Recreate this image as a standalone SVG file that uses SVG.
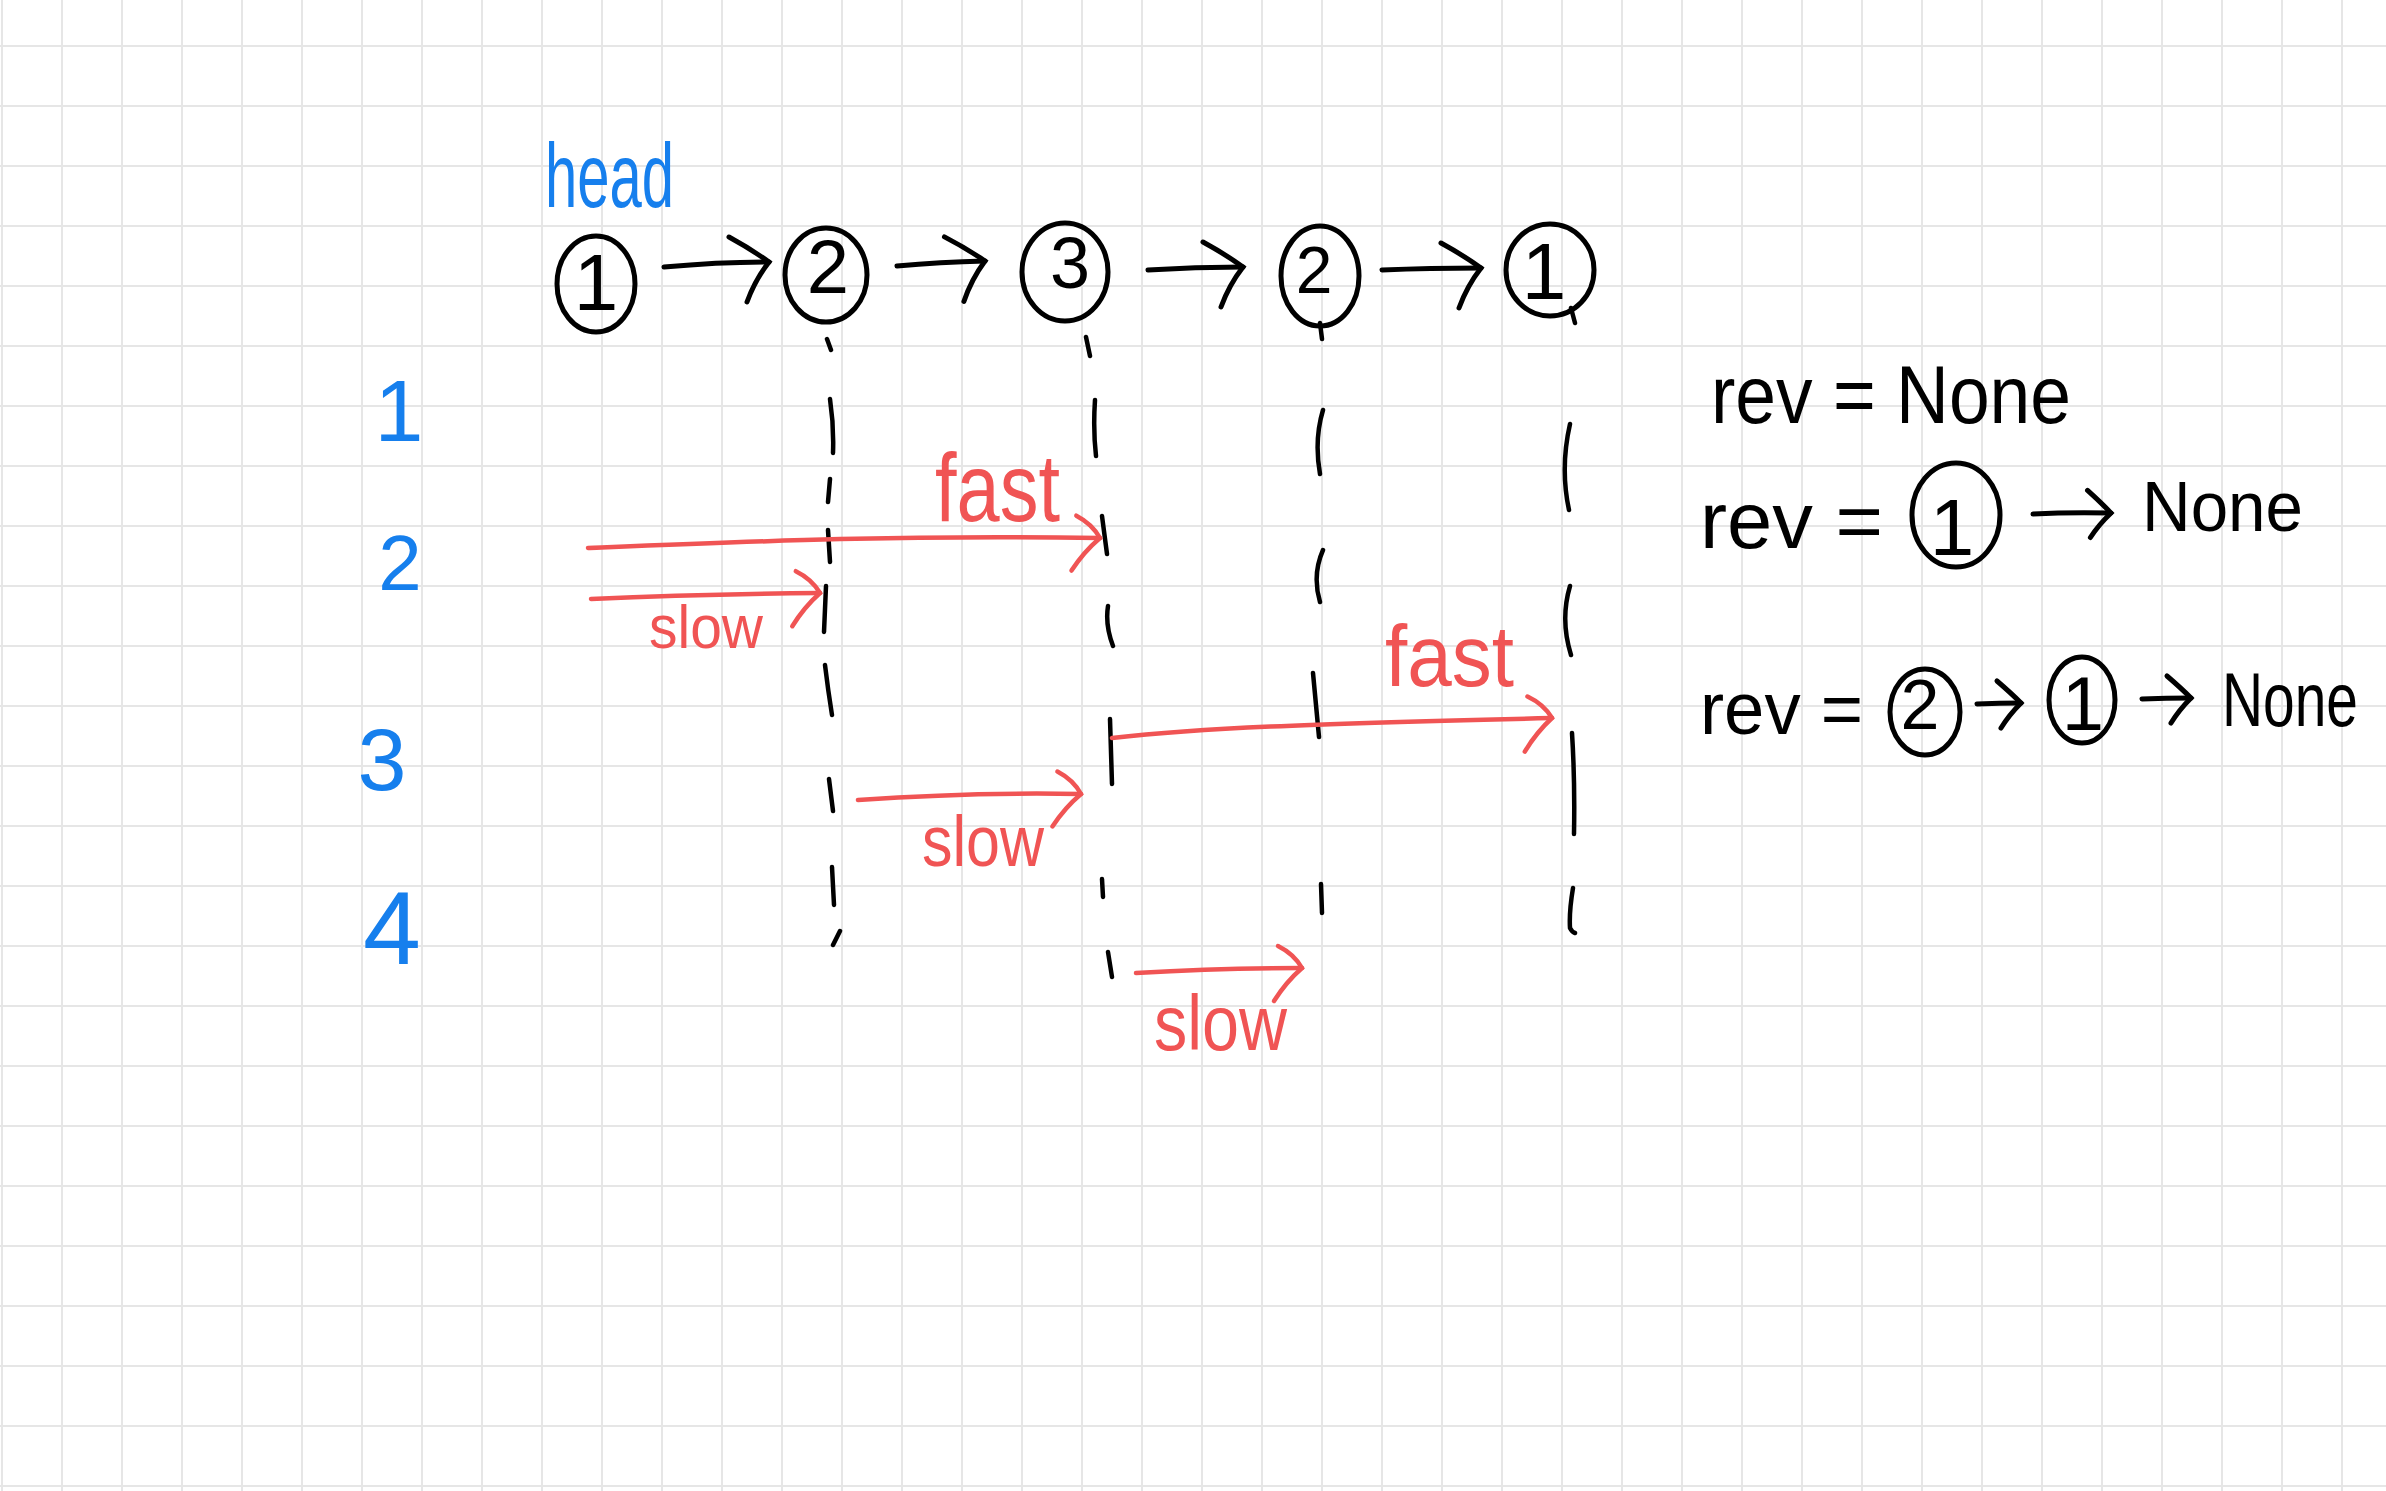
<svg xmlns="http://www.w3.org/2000/svg" width="2386" height="1491" viewBox="0 0 2386 1491">
<defs>
<pattern id="grid" x="1" y="45" width="60" height="60" patternUnits="userSpaceOnUse">
<rect x="0" y="0" width="60" height="2" fill="#e6e6e6"/>
<rect x="0" y="0" width="2" height="60" fill="#e6e6e6"/>
</pattern>
<marker id="ah-black" markerUnits="userSpaceOnUse" markerWidth="60" markerHeight="100" viewBox="-50 -50 60 100" refX="0" refY="0" orient="auto" style="overflow:visible">
<path d="M-40,-25 Q-18,-13 0,0 Q-14,18 -22,40" fill="none" stroke="#000" stroke-width="5" stroke-linecap="round"/>
</marker>
<marker id="ah-small" markerUnits="userSpaceOnUse" markerWidth="40" markerHeight="60" viewBox="-30 -30 40 60" refX="0" refY="0" orient="auto" style="overflow:visible">
<path d="M-24,-22 Q-10,-10 0,0 Q-12,12 -20,25" fill="none" stroke="#000" stroke-width="5" stroke-linecap="round"/>
</marker>
<marker id="ah-red" markerUnits="userSpaceOnUse" markerWidth="60" markerHeight="80" viewBox="-40 -40 60 80" refX="0" refY="0" orient="auto" style="overflow:visible">
<path d="M-24,-22 Q-8,-14 0,0 Q-16,14 -28,33" fill="none" stroke="#f05454" stroke-width="4.5" stroke-linecap="round"/>
</marker>
</defs>
<style>
.ink{fill:none;stroke:#000;stroke-width:5;stroke-linecap:round;stroke-linejoin:round}
.dash{fill:none;stroke:#000;stroke-width:4.5;stroke-linecap:round}
.red{fill:none;stroke:#f05454;stroke-width:4.5;stroke-linecap:round}
.node{fill:none;stroke:#000;stroke-width:5}
.t{font-family:"Liberation Sans",Arial,sans-serif}
.digit{fill:#000;text-anchor:middle}
.blue{fill:#167fed}
.redt{fill:#f05454}
.blk{fill:#000}
</style>
<rect x="0" y="0" width="2386" height="1491" fill="#ffffff"/>
<rect x="0" y="0" width="2386" height="1491" fill="url(#grid)"/>

<g id="head-label">
<text class="t blue" x="545" y="207" font-size="90" textLength="129" lengthAdjust="spacingAndGlyphs">head</text>
</g>

<g id="step-labels">
<text class="t blue" x="399" y="441" font-size="88" text-anchor="middle">1</text>
<text class="t blue" x="400" y="590" font-size="78" text-anchor="middle">2</text>
<text class="t blue" x="382" y="790" font-size="88" text-anchor="middle">3</text>
<text class="t blue" x="392" y="964" font-size="104" text-anchor="middle">4</text>
</g>

<g id="node-1">
<ellipse class="node" cx="596" cy="284" rx="39" ry="48"/>
<text class="t digit" x="596" y="310" font-size="80">1</text>
</g>
<g id="node-2">
<ellipse class="node" cx="826" cy="275" rx="41" ry="47"/>
<text class="t digit" x="828" y="293" font-size="76">2</text>
</g>
<g id="node-3">
<ellipse class="node" cx="1065" cy="272" rx="43" ry="49"/>
<text class="t digit" x="1070" y="288" font-size="72">3</text>
</g>
<g id="node-4">
<ellipse class="node" cx="1320" cy="276" rx="39" ry="50"/>
<text class="t digit" x="1314" y="293" font-size="66">2</text>
</g>
<g id="node-5">
<ellipse class="node" cx="1550" cy="270" rx="44" ry="46"/>
<text class="t digit" x="1544" y="299" font-size="80">1</text>
</g>

<g id="connectors">
<path class="ink" d="M664 267 Q720 262 769 262" marker-end="url(#ah-black)"/>
<path class="ink" d="M897 266 Q940 262 985 261" marker-end="url(#ah-black)"/>
<path class="ink" d="M1148 270 Q1195 267 1243 267" marker-end="url(#ah-black)"/>
<path class="ink" d="M1382 270 Q1430 268 1481 268" marker-end="url(#ah-black)"/>

<path class="dash" d="M827 339 L831 350 M830 399 Q834 426 833 453 M830 479 L828 502 M828 530 L830 562 M826 586 L824 632 M825 665 Q828 690 832 715 M829 779 L833 811 M832 867 L834 905 M840 931 L833 945"/>
<path class="dash" d="M1086 337 L1090 356 M1095 400 Q1093 430 1096 456 M1102 516 L1107 554 M1108 606 Q1105 625 1113 646 M1110 719 L1112 784 M1102 879 L1103 897 M1108 952 L1112 977"/>
<path class="dash" d="M1320 323 L1322 339 M1323 410 Q1314 440 1320 474 M1323 550 Q1312 575 1320 602 M1313 673 L1319 737 M1321 884 L1322 913"/>
<path class="dash" d="M1571 308 L1575 323 M1570 424 Q1560 468 1569 510 M1570 586 Q1560 620 1571 655 M1572 733 Q1575 780 1574 834 M1573 888 Q1569 912 1570 928 Q1572 932 1575 933"/>

<path class="red" d="M588 548 C760 541 900 535 1100 538" marker-end="url(#ah-red)"/>
<path class="red" d="M591 599 Q700 594 820 593" marker-end="url(#ah-red)"/>
<path class="red" d="M1112 738 C1200 728 1300 724 1552 718" marker-end="url(#ah-red)"/>
<path class="red" d="M858 800 Q970 792 1081 794" marker-end="url(#ah-red)"/>
<path class="red" d="M1136 973 Q1220 968 1302 968" marker-end="url(#ah-red)"/>
</g>

<g id="pointer-labels">
<text class="t redt" x="935" y="521" font-size="96" textLength="125" lengthAdjust="spacingAndGlyphs">fast</text>
<text class="t redt" x="649" y="648" font-size="62" textLength="114" lengthAdjust="spacingAndGlyphs">slow</text>
<text class="t redt" x="1385" y="686" font-size="88" textLength="129" lengthAdjust="spacingAndGlyphs">fast</text>
<text class="t redt" x="922" y="866" font-size="72" textLength="122" lengthAdjust="spacingAndGlyphs">slow</text>
<text class="t redt" x="1154" y="1050" font-size="78" textLength="133" lengthAdjust="spacingAndGlyphs">slow</text>
</g>

<g id="rev-line-1">
<text class="t blk" x="1711" y="423" font-size="82" textLength="360" lengthAdjust="spacingAndGlyphs">rev = None</text>
</g>

<g id="rev-line-2">
<text class="t blk" x="1700" y="548" font-size="80" textLength="183" lengthAdjust="spacingAndGlyphs">rev =</text>
<ellipse class="node" cx="1956" cy="515" rx="44" ry="52"/>
<text class="t digit" x="1952" y="555" font-size="80">1</text>
<path class="ink" d="M2033 514 Q2070 512 2111 513" marker-end="url(#ah-small)"/>
<text class="t blk" x="2142" y="531" font-size="70" textLength="161" lengthAdjust="spacingAndGlyphs">None</text>
</g>

<g id="rev-line-3">
<text class="t blk" x="1700" y="734" font-size="74" textLength="163" lengthAdjust="spacingAndGlyphs">rev =</text>
<ellipse class="node" cx="1925" cy="712" rx="35" ry="43"/>
<text class="t digit" x="1920" y="729" font-size="70">2</text>
<path class="ink" d="M1977 704 Q2000 703 2021 703" marker-end="url(#ah-small)"/>
<ellipse class="node" cx="2082" cy="700" rx="33" ry="43"/>
<text class="t digit" x="2083" y="730" font-size="76">1</text>
<path class="ink" d="M2142 699 Q2166 698 2191 698" marker-end="url(#ah-small)"/>
<text class="t blk" transform="translate(2222 726) scale(1 1.15)" x="0" y="0" font-size="66" textLength="136" lengthAdjust="spacingAndGlyphs">None</text>
</g>
</svg>
